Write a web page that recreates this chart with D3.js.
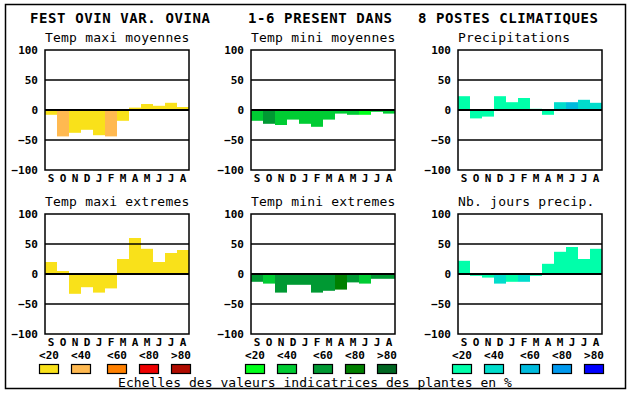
<!DOCTYPE html>
<html>
<head>
<meta charset="utf-8">
<script src="https://cdn.jsdelivr.net/npm/d3@7"></script>
<style>
  body { margin: 0; background: #fff; }
  svg text { font-family: "DejaVu Sans Mono", monospace; fill: #000; }
</style>
</head>
<body>
<div id="chart"></div>
<script>
// months, sept -> aout
var months = ['S', 'O', 'N', 'D', 'J', 'F', 'M', 'A', 'M', 'J', 'J', 'A'];
var yTicks = [100, 50, 0, -50, -100];
var titleParts = ['FEST OVIN VAR. OVINA', '1-6 PRESENT DANS', '8 POSTES CLIMATIQUES'];
var legendLabels = ['<20', '<40', '<60', '<80', '>80'];
var caption = 'Echelles des valeurs indicatrices des plantes en %';

var yellowScale = ['#f9e11a', '#ffb950', '#ff8000', '#ee0000', '#b00c00'];
var greenScale = ['#00ff1a', '#00cc33', '#009933', '#008000', '#006622'];
var blueScale = ['#00ffaa', '#00ddcc', '#00bbdd', '#0099ee', '#0000ff'];

var tmaxMoy = [-8, -44, -38, -33, -42, -44, -18, 4, 10, 7, 12, 5];
var tmaxMoyCls = [0, 1, 0, 0, 0, 1, 0, 0, 0, 0, 0, 0];
var tminMoy = [-18, -23, -25, -16, -23, -28, -16, -6, -8, -8, -3, -6];
var tminMoyCls = [1, 2, 1, 1, 1, 1, 1, 1, 1, 0, 1, 1];
var precip = [23, -14, -11, 23, 13, 20, 2, -8, 13, 13, 17, 12];
var precipCls = [0, 0, 0, 0, 0, 0, 0, 0, 1, 2, 1, 1];
var tmaxExt = [20, 5, -33, -22, -31, -24, 25, 60, 42, 20, 35, 40];
var tmaxExtCls = [0, 0, 0, 0, 0, 0, 0, 0, 0, 0, 0, 0];
var tminExt = [-13, -16, -31, -18, -18, -31, -28, -26, -14, -16, -8, -8];
var tminExtCls = [2, 1, 2, 2, 2, 2, 2, 3, 2, 1, 2, 2];
var joursPrecip = [22, -3, -6, -16, -13, -13, -3, 17, 37, 45, 25, 42];
var joursPrecipCls = [0, 0, 0, 1, 0, 1, 0, 0, 0, 0, 0, 0];

var panels = [
    {title: 'Temp maxi moyennes', values: tmaxMoy, cls: tmaxMoyCls, colors: yellowScale, col: 0, row: 0},
    {title: 'Temp mini moyennes', values: tminMoy, cls: tminMoyCls, colors: greenScale, col: 1, row: 0},
    {title: 'Precipitations', values: precip, cls: precipCls, colors: blueScale, col: 2, row: 0},
    {title: 'Temp maxi extremes', values: tmaxExt, cls: tmaxExtCls, colors: yellowScale, col: 0, row: 1},
    {title: 'Temp mini extremes', values: tminExt, cls: tminExtCls, colors: greenScale, col: 1, row: 1},
    {title: 'Nb. jours precip.', values: joursPrecip, cls: joursPrecipCls, colors: blueScale, col: 2, row: 1}
];

var W = 630, H = 394;
var colLeft = [45, 251, 458];
var rowTop = [50, 214];
var plotW = 144, plotH = 120;

var svg = d3.select('#chart').append('svg')
    .attr('width', W)
    .attr('height', H);

// outer frame
svg.append('rect')
    .attr('x', 5.5).attr('y', 4.5)
    .attr('width', 620).attr('height', 384)
    .attr('fill', 'none')
    .attr('stroke', '#000')
    .attr('stroke-width', 1.5);

// main title, in three pieces
var titleX = [30, 248, 418];
titleParts.forEach(function(t, i) {
    svg.append('text')
        .attr('x', titleX[i])
        .attr('y', 23)
        .style('font-size', '14px')
        .style('letter-spacing', '0.6px')
        .style('font-weight', 'bold')
        .text(t);
});

panels.forEach(function(p) {
    var x0 = colLeft[p.col], y0 = rowTop[p.row];
    var g = svg.append('g').attr('transform', 'translate(' + x0 + ',' + y0 + ')');

    var x = d3.scaleBand().domain(d3.range(months.length)).range([0, plotW]).padding(0);
    var y = d3.scaleLinear().domain([-100, 100]).range([plotH, 0]);

    g.append('text')
        .attr('x', 0)
        .attr('y', -8)
        .style('font-size', '13px')
        .style('letter-spacing', '0.2px')
        .text(p.title);

    g.selectAll('rect.bar')
        .data(p.values)
        .enter().append('rect')
        .attr('class', 'bar')
        .attr('x', function(d, i) { return x(i); })
        .attr('width', x.bandwidth())
        .attr('y', function(d) { return y(Math.max(0, d)); })
        .attr('height', function(d) { return Math.abs(y(d) - y(0)); })
        .attr('fill', function(d, i) { return p.colors[p.cls[i]]; });

    // grid lines at 50 / 0 / -50
    g.selectAll('line.grid')
        .data([50, 0, -50])
        .enter().append('line')
        .attr('x1', 0).attr('x2', plotW)
        .attr('y1', function(d) { return y(d); })
        .attr('y2', function(d) { return y(d); })
        .attr('stroke', '#000')
        .attr('stroke-width', function(d) { return d === 0 ? 2 : 1.5; });

    g.append('rect')
        .attr('width', plotW).attr('height', plotH)
        .attr('fill', 'none')
        .attr('stroke', '#000')
        .attr('stroke-width', 1.5);

    var yAxis = d3.axisLeft(y).tickValues(yTicks).tickSize(0).tickPadding(7);
    var ya = g.append('g').call(yAxis);
    ya.select('.domain').remove();
    ya.selectAll('text')
        .style('font-family', '"DejaVu Sans Mono", monospace')
        .style('font-size', '11px')
        .style('font-weight', 'bold');

    var xAxis = d3.axisBottom(x).tickFormat(function(i) { return months[i]; }).tickSize(0).tickPadding(4);
    var xa = g.append('g').attr('transform', 'translate(0,' + plotH + ')').call(xAxis);
    xa.select('.domain').remove();
    xa.selectAll('text')
        .style('font-family', '"DejaVu Sans Mono", monospace')
        .style('font-size', '11px')
        .style('font-weight', 'bold');
});

// legend: one colour scale under each column
var legendOffsets = [-6, 26, 62, 94, 126];
[yellowScale, greenScale, blueScale].forEach(function(colors, c) {
    var g = svg.append('g').attr('transform', 'translate(' + colLeft[c] + ',0)');
    var items = g.selectAll('g.item')
        .data(colors)
        .enter().append('g')
        .attr('class', 'item')
        .attr('transform', function(d, i) { return 'translate(' + legendOffsets[i] + ',0)'; });
    items.append('text')
        .attr('x', 10)
        .attr('y', 359)
        .attr('text-anchor', 'middle')
        .style('font-size', '11px')
        .style('font-weight', 'bold')
        .text(function(d, i) { return legendLabels[i]; });
    items.append('rect')
        .attr('x', 0.5).attr('y', 364.5)
        .attr('width', 19).attr('height', 9)
        .attr('fill', function(d) { return d; })
        .attr('stroke', '#000')
        .attr('stroke-width', 1.2);
});

svg.append('text')
    .attr('x', 315)
    .attr('y', 387)
    .attr('text-anchor', 'middle')
    .style('font-size', '13px')
    .style('letter-spacing', '0.05px')
    .text(caption);
</script>
</body>
</html>
